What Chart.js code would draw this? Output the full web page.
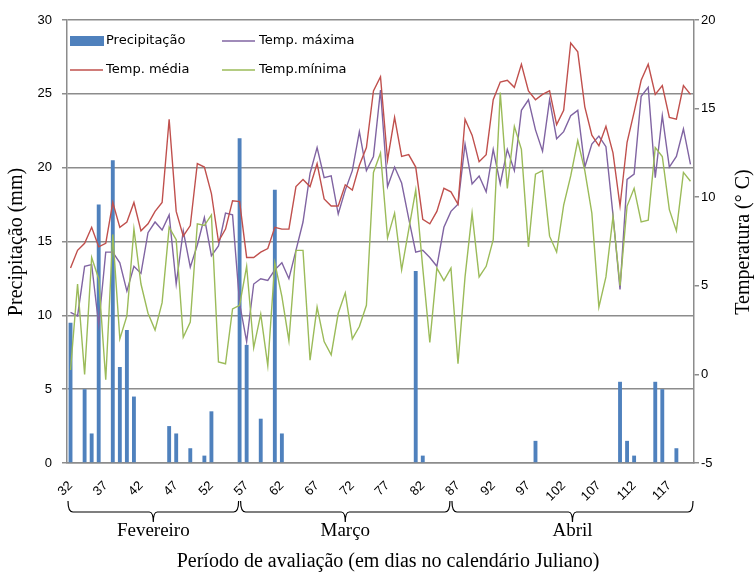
<!DOCTYPE html>
<html lang="pt">
<head>
    <meta charset="UTF-8">
    <title>Precipitação e temperatura</title>
    <script src="https://cdn.jsdelivr.net/npm/chart.js@4.4.1/dist/chart.umd.min.js"></script>
    <style>
        html, body { margin: 0; padding: 0; background: #fff; }
        #wrap { width: 756px; height: 572px; }
    </style>
</head>
<body>
<div id="wrap"><canvas id="chart" width="756" height="572"></canvas></div>
<script>
    // Dias julianos (1 fev a 30 abr)
    const days = [
        32, 33, 34, 35, 36, 37, 38, 39, 40, 41,
        42, 43, 44, 45, 46, 47, 48, 49, 50, 51,
        52, 53, 54, 55, 56, 57, 58, 59, 60, 61,
        62, 63, 64, 65, 66, 67, 68, 69, 70, 71,
        72, 73, 74, 75, 76, 77, 78, 79, 80, 81,
        82, 83, 84, 85, 86, 87, 88, 89, 90, 91,
        92, 93, 94, 95, 96, 97, 98, 99, 100, 101,
        102, 103, 104, 105, 106, 107, 108, 109, 110, 111,
        112, 113, 114, 115, 116, 117, 118, 119, 120
    ];

    // Precipitação (mm)
    const precip = [
        9.5, 0, 5, 2, 17.5, 0, 20.5, 6.5, 9, 4.5,
        0, 0, 0, 0, 2.5, 2, 0, 1, 0, 0.5,
        3.5, 0, 0, 0, 22, 8, 0, 3, 0, 18.5,
        2, 0, 0, 0, 0, 0, 0, 0, 0, 0,
        0, 0, 0, 0, 0, 0, 0, 0, 0, 13,
        0.5, 0, 0, 0, 0, 0, 0, 0, 0, 0,
        0, 0, 0, 0, 0, 0, 1.5, 0, 0, 0,
        0, 0, 0, 0, 0, 0, 0, 0, 5.5, 1.5,
        0.5, 0, 0, 5.5, 5, 0, 1, 0, 0
    ];

    // Temperaturas (°C)
    const tMax = [
        3.5, 3.3, 6.1, 6.2, 2.8, 6.9, 6.9, 6.3, 4.7, 6.1,
        5.7, 8.0, 8.6, 8.15, 9.0, 5.1, 8.1, 6.05, 7.3, 8.85,
        6.7, 7.25, 9.1, 9.0, 4.0, 1.85, 5.1, 5.4, 5.3, 5.9,
        6.3, 5.4, 7.0, 8.6, 11.35, 12.8, 11.1, 11.2, 9.05, 10.4,
        11.5, 13.7, 11.5, 12.3, 16.05, 10.6, 11.7, 10.8, 8.8, 6.9,
        7.0, 6.6, 6.1, 8.3, 9.2, 9.6, 13.0, 10.75, 11.2, 10.3,
        12.7, 10.75, 12.7, 11.5, 14.9, 15.5, 13.8, 12.6, 15.5, 13.3,
        13.7, 14.6, 14.9, 11.7, 13.0, 13.45, 12.85, 9.0, 4.8, 11.0,
        11.3, 15.7, 16.2, 11.1, 14.6, 11.7, 12.3, 13.85, 11.85
    ];
    const tMed = [
        6.0, 7.0, 7.4, 8.3, 7.2, 7.4, 9.7, 8.3, 8.6, 9.7,
        8.1, 8.5, 9.2, 9.7, 14.4, 9.2, 7.8, 8.4, 11.9, 11.7,
        10.2, 7.5, 8.2, 9.8, 9.75, 6.6, 6.6, 6.9, 7.1, 8.3,
        8.2, 8.2, 10.6, 11.0, 10.6, 11.9, 9.9, 9.5, 9.5, 10.7,
        10.4, 11.8, 12.8, 16.0, 16.8, 12.1, 14.5, 12.3, 12.4, 11.7,
        8.75, 8.5, 9.2, 10.5, 10.3, 9.6, 14.4, 13.5, 12.0, 12.4,
        15.5, 16.5, 16.6, 16.2, 17.5, 16.0, 15.5, 15.8, 16.0, 14.1,
        14.9, 18.7, 18.2, 15.1, 13.5, 12.9, 14.0, 12.5, 9.5, 13.1,
        14.8, 16.6, 17.5, 15.8, 16.3, 14.5, 14.4, 16.3, 15.8
    ];
    const tMin = [
        0.25, 5.1, 0.0, 6.6, 5.4, -0.3, 7.9, 2.0, 3.3, 8.2,
        5.1, 3.45, 2.5, 4.05, 8.3, 7.6, 2.1, 2.95, 8.5, 8.4,
        9.0, 0.7, 0.6, 3.7, 3.9, 6.1, 1.5, 3.4, 0.5, 6.3,
        4.4, 1.9, 7.0, 7.0, 0.8, 3.8, 1.85, 1.1, 3.45, 4.6,
        2.0, 2.7, 3.9, 11.4, 12.5, 7.7, 9.1, 5.9, 8.15, 10.4,
        6.0, 1.8, 6.0, 5.3, 6.0, 0.6, 5.5, 9.1, 5.5, 6.1,
        7.6, 15.9, 10.5, 14.0, 12.7, 7.2, 11.3, 11.5, 7.8, 6.9,
        9.55, 11.2, 13.2, 11.5, 9.1, 3.8, 5.5, 8.9, 5.0, 9.5,
        10.5, 8.6, 8.7, 12.8, 12.3, 9.3, 8.1, 11.4, 10.9
    ];

    // Meses: a chave vai do centro de um dia ao centro de outro
    const months = [
        { name: 'Fevereiro', from: 32, to: 56 },
        { name: 'Março', from: 56, to: 86 },
        { name: 'Abril', from: 86, to: 120 }
    ];

    const GRID = '#8c8c8c';
    const SERIF = '"Liberation Serif", "Times New Roman", serif';

    // legenda, títulos e chaves dos meses
    const extras = {
        id: 'extras',
        afterDraw(chart) {
            const c = chart.ctx;
            const area = chart.chartArea;
            const x = chart.scales.x;
            c.save();

            // legenda
            c.font = '13px "DejaVu Sans"';
            c.textBaseline = 'middle';
            c.textAlign = 'left';
            const ds = chart.data.datasets;
            c.fillStyle = ds[0].backgroundColor;
            c.fillRect(70, 36, 34, 10);
            const lines = [
                { i: 1, x: 222, y: 41 },
                { i: 2, x: 70, y: 70 },
                { i: 3, x: 222, y: 70 }
            ];
            lines.forEach(l => {
                c.strokeStyle = ds[l.i].borderColor;
                c.lineWidth = 1.5;
                c.beginPath();
                c.moveTo(l.x, l.y);
                c.lineTo(l.x + 33, l.y);
                c.stroke();
            });
            c.fillStyle = '#000';
            c.fillText(ds[0].label, 106, 41);
            c.fillText(ds[1].label, 259, 41);
            c.fillText(ds[2].label, 106, 70);
            c.fillText(ds[3].label, 259, 70);

            // títulos dos eixos
            c.font = '20px ' + SERIF;
            c.textAlign = 'center';
            c.save();
            c.translate(17, 242);
            c.rotate(-Math.PI / 2);
            c.fillText('Precipitação (mm)', 0, 0);
            c.restore();
            c.save();
            c.translate(744, 242);
            c.rotate(-Math.PI / 2);
            c.fillText('Temperatura (° C)', 0, 0);
            c.restore();

            // chaves
            const edge = d => {
                const i = days.indexOf(d);
                if (i === 0) return area.left;
                if (i === days.length - 1) return area.right;
                return x.getPixelForValue(i);
            };
            c.strokeStyle = '#000';
            c.lineWidth = 1.2;
            const yb = 512;
            c.font = '19px ' + SERIF;
            months.forEach(m => {
                const x0 = edge(m.from) + 1;
                const x1 = edge(m.to) - 1;
                const xm = (x0 + x1) / 2;
                c.beginPath();
                c.moveTo(x0, yb - 11);
                c.quadraticCurveTo(x0, yb, x0 + 5, yb);
                c.lineTo(xm - 4, yb);
                c.quadraticCurveTo(xm, yb, xm, yb + 10);
                c.quadraticCurveTo(xm, yb, xm + 4, yb);
                c.lineTo(x1 - 5, yb);
                c.quadraticCurveTo(x1, yb, x1, yb - 11);
                c.stroke();
                c.fillText(m.name, xm, 531);
            });

            c.font = '20px ' + SERIF;
            c.fillText('Período de avaliação (em dias no calendário Juliano)', 388, 562);
            c.restore();
        }
    };

    const ctx = document.getElementById('chart').getContext('2d');
    new Chart(ctx, {
        type: 'bar',
        data: {
            labels: days,
            datasets: [
                { type: 'bar', label: 'Precipitação', data: precip, yAxisID: 'yP',
                  backgroundColor: '#4f81bd', barPercentage: 0.55, categoryPercentage: 1, order: 5 },
                { type: 'line', label: 'Temp. máxima', data: tMax, yAxisID: 'yT',
                  borderColor: '#8064a2', borderWidth: 1.4, pointRadius: 0, tension: 0, order: 3 },
                { type: 'line', label: 'Temp. média', data: tMed, yAxisID: 'yT',
                  borderColor: '#c0504d', borderWidth: 1.4, pointRadius: 0, tension: 0, order: 2 },
                { type: 'line', label: 'Temp.mínima', data: tMin, yAxisID: 'yT',
                  borderColor: '#9bbb59', borderWidth: 1.4, pointRadius: 0, tension: 0, order: 1 }
            ]
        },
        options: {
            responsive: false,
            animation: false,
            layout: { padding: { top: 20 } },
            plugins: { legend: { display: false }, tooltip: { enabled: false } },
            scales: {
                x: {
                    grid: { display: false },
                    border: { color: GRID, width: 1.5 },
                    ticks: {
                        autoSkip: false, minRotation: 45, maxRotation: 45, padding: 7,
                        color: '#000', font: { family: '"Liberation Sans"', size: 13 },
                        callback: (v, i) => (i % 5 === 0 ? days[i] : '')
                    },
                    afterFit: s => { s.height = 109; }
                },
                yP: {
                    position: 'left', min: 0, max: 30,
                    grid: { color: GRID, lineWidth: 1.5, tickLength: 5 },
                    border: { color: GRID, width: 1.5 },
                    ticks: { stepSize: 5, padding: 10, color: '#000',
                             font: { family: '"Liberation Sans"', size: 13 } },
                    afterFit: s => { s.width = 67; }
                },
                yT: {
                    position: 'right', min: -5, max: 20,
                    grid: { drawOnChartArea: false, color: GRID, lineWidth: 1.5, tickLength: 5 },
                    border: { color: GRID, width: 1.5 },
                    ticks: { stepSize: 5, padding: 2, color: '#000',
                             font: { family: '"Liberation Sans"', size: 13 } },
                    afterFit: s => { s.width = 62; }
                }
            }
        },
        plugins: [extras]
    });
</script>
</body>
</html>
